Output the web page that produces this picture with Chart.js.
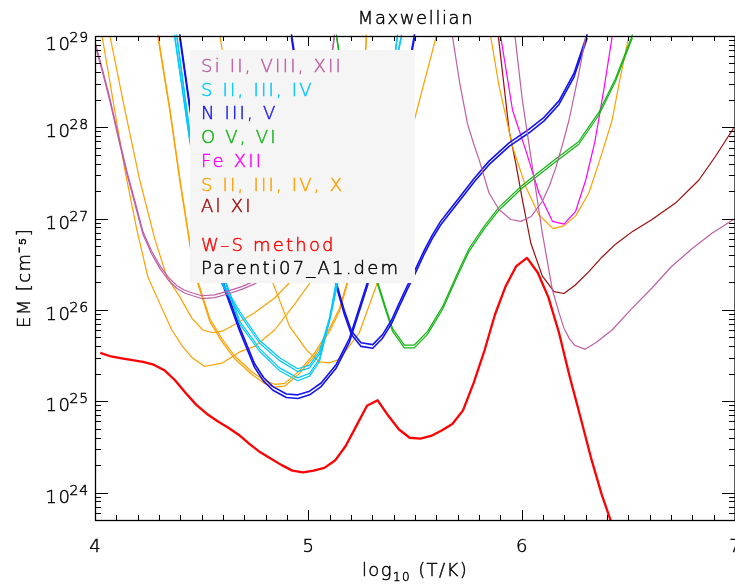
<!DOCTYPE html>
<html>
<head>
<meta charset="utf-8">
<script src="https://cdn.jsdelivr.net/npm/chart.js@4"></script>
<style>
  html, body { margin: 0; padding: 0; background: #fff; }
  #wrap { width: 735px; height: 584px; }
</style>
</head>
<body>
<div id="wrap"><canvas id="emChart" width="735" height="584"></canvas></div>
<script>
// EM loci: log10(T/K) and log10(EM / cm^-5)
const wsT = [4.025,4.075,4.125,4.175,4.225,4.275,4.325,4.375,4.425,4.475,4.525,4.575,4.625,4.675,4.725,4.775,4.825,4.875,4.925,4.975,
             5.025,5.075,5.125,5.175,5.225,5.275,5.325,5.375,5.425,5.475,5.525,5.575,5.625,5.675,5.725,5.775,5.825,5.875,5.925,5.975,
             6.025,6.075,6.125,6.175,6.225,6.275,6.325,6.375,6.425,6.475];
const wsEM = [25.53,25.49,25.47,25.45,25.43,25.40,25.34,25.23,25.09,24.96,24.86,24.78,24.71,24.63,24.53,24.44,24.37,24.30,24.24,24.22,
              24.24,24.27,24.35,24.51,24.73,24.95,25.01,24.84,24.69,24.60,24.59,24.62,24.68,24.75,24.90,25.20,25.55,25.95,26.26,26.48,
              26.57,26.41,26.14,25.75,25.27,24.83,24.38,23.98,23.64,23.26];

const siAT  = [4.0,4.035,4.070,4.110,4.150,4.190,4.225,4.265,4.304,4.344,4.384,4.420,4.458,4.50,4.561,4.622,4.688,4.748,4.865,4.959,5.052,5.122,5.169];
const siAEM = [28.92,28.62,28.30,27.89,27.50,27.15,26.84,26.63,26.47,26.34,26.25,26.20,26.17,26.14,26.15,26.19,26.24,26.30,26.49,26.88,27.75,29.0,29.72];
const siBT  = [5.637,5.676,5.710,5.746,5.775,5.801,5.847,5.894,5.949,5.996,6.043,6.097,6.130,6.159,6.190,6.222,6.268,6.30,6.325];
const siBEM = [29.61,28.99,28.48,28.04,27.82,27.64,27.28,27.10,26.99,26.97,27.02,27.19,27.36,27.55,27.80,28.08,28.59,28.99,29.39];
const siCT  = [5.950,5.969,6.003,6.050,6.097,6.144,6.175,6.198,6.225,6.250,6.297,6.347,6.424,6.518,6.611,6.700,6.798,6.892,7.0];
const siCEM = [29.39,28.99,28.30,27.57,26.84,26.22,25.97,25.80,25.68,25.61,25.57,25.64,25.78,26.02,26.24,26.47,26.67,26.84,27.0];

const sCyanAT  = [4.355,4.374,4.444,4.514,4.594,4.678,4.772,4.865,4.950,5.006,5.052,5.099,5.130,5.193,5.286,5.403,5.417,5.431];
const sCyanAEM = [29.39,28.99,27.86,26.99,26.30,25.97,25.65,25.46,25.34,25.38,25.53,25.89,26.29,27.10,27.97,28.74,28.99,29.39];
const sCyanBT  = [4.365,4.384,4.449,4.529,4.613,4.678,4.772,4.865,4.950,5.006,5.052,5.107,5.137,5.202,5.296,5.413,5.436,5.450];
const sCyanBEM = [29.39,28.99,27.86,26.99,26.30,25.86,25.56,25.35,25.24,25.29,25.45,25.97,26.30,27.10,27.97,28.74,28.99,29.39];

const nAT  = [4.379,4.398,4.444,4.514,4.60,4.678,4.748,4.790,4.834,4.897,4.951,5.006,5.060,5.130,5.193,5.278,5.356,5.427,5.497,5.520];
const nAEM = [29.39,28.99,28.23,27.21,26.29,25.79,25.39,25.24,25.14,25.06,25.05,25.09,25.18,25.38,25.67,26.29,27.21,28.08,28.99,29.39];
const nBT  = [4.903,4.921,4.982,5.052,5.130,5.169,5.202,5.247,5.302,5.348,5.390,5.427,5.465,5.505,5.545,5.581,5.620,5.660,5.707,5.777,5.847,5.941,6.035,6.105,6.175,6.245,6.306,6.329];
const nBEM = [29.39,29.0,28.08,27.21,26.29,25.97,25.75,25.62,25.60,25.71,25.87,26.06,26.25,26.44,26.64,26.80,26.95,27.07,27.21,27.42,27.61,27.81,27.96,28.09,28.27,28.57,28.99,29.28];

const oT  = [5.113,5.132,5.193,5.263,5.325,5.364,5.395,5.450,5.497,5.559,5.629,5.698,5.754,5.824,5.894,6.003,6.144,6.268,6.362,6.440,6.518,6.549];
const oEM = [29.61,29.0,28.08,26.99,26.29,26.00,25.78,25.60,25.60,25.75,26.02,26.38,26.66,26.90,27.11,27.35,27.61,27.83,28.15,28.52,28.99,29.39];

const feT  = [5.885,5.902,5.957,6.023,6.081,6.144,6.198,6.253,6.30,6.343,6.385,6.424,6.442];
const feEM = [29.39,28.99,28.19,27.72,27.28,26.97,26.94,27.08,27.42,27.84,28.41,28.99,29.39];

const sOrAT  = [4.019,4.033,4.084,4.140,4.196,4.248,4.290,4.360,4.410,4.454,4.514,4.599,4.678,4.748,4.842,4.935,5.052,5.169];
const sOrAEM = [29.39,29.00,28.30,27.53,26.88,26.36,26.14,25.78,25.60,25.48,25.38,25.42,25.54,25.60,25.78,26.06,26.44,26.99];
const sOrBT  = [4.051,4.070,4.140,4.210,4.281,4.337,4.398,4.454,4.505,4.552,4.599,4.669,4.748,4.842,4.912,5.052];
const sOrBEM = [29.39,29.00,28.19,27.42,26.77,26.36,26.14,25.91,25.78,25.75,25.77,25.86,25.97,26.13,26.30,26.77];
const sOrCT  = [4.281,4.295,4.351,4.398,4.449,4.482,4.538,4.594,4.655,4.734,4.795,4.842,4.889,4.959,5.029,5.099,5.146,5.183,5.230,5.258,5.272,5.282];
const sOrCEM = [29.39,29.00,28.19,27.42,26.66,26.30,25.89,25.67,25.48,25.31,25.21,25.17,25.18,25.32,25.51,25.78,26.00,26.30,27.21,28.30,29.00,29.39];
const sOrDT  = [4.575,4.585,4.678,4.772,4.833,4.912,4.992,5.052,5.099,5.146,5.239,5.324,5.403,5.497,5.600,5.620];
const sOrDEM = [29.39,29.00,27.75,26.77,26.30,25.82,25.56,25.43,25.42,25.46,25.75,26.30,27.15,28.08,29.00,29.30];
const sXT  = [5.838,5.855,5.894,5.957,6.019,6.081,6.147,6.198,6.253,6.315,6.377,6.424,6.460,6.502,6.521];
const sXEM = [29.39,28.99,28.45,27.79,27.35,27.04,26.89,26.92,27.03,27.28,27.72,28.08,28.52,28.99,29.39];

const alT  = [5.880,5.891,5.941,5.972,6.003,6.043,6.097,6.152,6.198,6.250,6.315,6.377,6.440,6.520,6.611,6.721,6.830,6.908,6.993];
const alEM = [29.39,28.99,27.97,27.61,27.21,26.73,26.37,26.20,26.18,26.27,26.42,26.58,26.72,26.86,26.99,27.17,27.42,27.68,27.99];

const xTicks = [4, 5, 6, 7];
const yTickExps = [24, 25, 26, 27, 28, 29];
const legendLabels = ['Si II, VIII, XII', 'S II, III, IV', 'N III, V', 'O V, VI', 'Fe XII',
                      'S II, III, IV, X', 'Al XI', 'W\u2013S method', 'Parenti07_A1.dem'];

const C = {
    si: 'rgb(190,95,165)', cyan: 'rgb(0,200,255)', blue: 'rgb(20,20,240)', green: 'rgb(20,180,20)',
    fe: 'rgb(255,0,255)', orange: 'rgb(255,160,0)', al: 'rgb(160,10,10)', red: 'rgb(255,0,0)', black: '#000'
};
const legendColors = [C.si, C.cyan, C.blue, C.green, C.fe, C.orange, C.al, C.red, C.black];
const legendBase = [72, 95.5, 119, 143, 166.5, 190.5, 212, 251, 274];
const FONT = '"DejaVu Sans", sans-serif';
const LIGHT = '200 ';

function pts(ts, es) {
    return ts.map((t, i) => ({ x: t, y: Math.pow(10, es[i]) }));
}

const curves = [
    { t: siAT, e: siAEM, color: C.si, double: true },
    { t: siBT, e: siBEM, color: C.si },
    { t: siCT, e: siCEM, color: C.si },
    { t: sCyanAT, e: sCyanAEM, color: C.cyan, double: true },
    { t: sCyanBT, e: sCyanBEM, color: C.cyan, double: true },
    { t: nAT, e: nAEM, color: C.blue, double: true, width: 1.6 },
    { t: nBT, e: nBEM, color: C.blue, double: true, width: 1.6 },
    { t: oT, e: oEM, color: C.green, double: true },
    { t: feT, e: feEM, color: C.fe },
    { t: sOrAT, e: sOrAEM, color: C.orange },
    { t: sOrBT, e: sOrBEM, color: C.orange },
    { t: sOrCT, e: sOrCEM, color: C.orange, double: true },
    { t: sOrDT, e: sOrDEM, color: C.orange },
    { t: sXT, e: sXEM, color: C.orange },
    { t: alT, e: alEM, color: C.al },
    { t: wsT, e: wsEM, color: C.red, width: 2.3 }
];

const datasets = [];
curves.forEach(c => {
    const base = {
        data: pts(c.t, c.e),
        borderColor: c.color,
        borderWidth: c.width || 1.2,
        borderJoinStyle: 'round',
        pointRadius: 0,
        fill: false,
        tension: 0
    };
    if (c.double) {
        const s = (c.width || 1.2) + 0.2;
        datasets.push(Object.assign({}, base, { shift: -s }));
        datasets.push(Object.assign({}, base, { data: pts(c.t, c.e), shift: s }));
    } else {
        datasets.push(base);
    }
});

function line(ctx, x1, y1, x2, y2) {
    ctx.beginPath();
    ctx.moveTo(x1, y1);
    ctx.lineTo(x2, y2);
    ctx.stroke();
}

// thin font, slightly thickened so it reads like the original
function txt(ctx, s, x, y, color) {
    ctx.fillStyle = color;
    ctx.strokeStyle = color;
    ctx.lineWidth = 0.45;
    ctx.fillText(s, x, y);
    ctx.strokeText(s, x, y);
}

const frame = {
    id: 'frame',
    beforeDatasetDraw(chart, args) {
        const s = chart.data.datasets[args.index].shift;
        if (s) {
            chart.ctx.save();
            chart.ctx.translate(0, s);
        }
    },
    afterDatasetDraw(chart, args) {
        if (chart.data.datasets[args.index].shift) chart.ctx.restore();
    },
    afterDatasetsDraw(chart) {
        const { ctx, chartArea: a, scales: { x, y } } = chart;
        ctx.save();

        // legend box, on top of the curves
        ctx.fillStyle = '#f5f5f5';
        ctx.fillRect(190, 50, 225, 233);
        ctx.font = LIGHT + '18px ' + FONT;
        ctx.letterSpacing = '2.2px';
        ctx.textBaseline = 'alphabetic';
        ctx.textAlign = 'left';
        legendLabels.forEach((s, i) => txt(ctx, s, 201, legendBase[i], legendColors[i]));

        // axes box
        ctx.strokeStyle = '#000';
        ctx.lineWidth = 1.3;
        ctx.strokeRect(a.left + 0.5, a.top + 0.5, a.right - a.left - 0.5, a.bottom - a.top);

        ctx.lineWidth = 1;
        for (let i = 0; i <= 30; i++) {
            const px = Math.round(x.getPixelForValue(4 + i / 10)) + 0.5;
            const len = i % 10 === 0 ? 10 : 5;
            line(ctx, px, a.bottom, px, a.bottom - len);
            line(ctx, px, a.top, px, a.top + len);
        }
        for (let e = 23; e <= 29; e++) {
            for (let m = 1; m <= 9; m++) {
                const v = m * Math.pow(10, e);
                if (v < 5e23 || v > 1.0001e29) continue;
                const py = Math.round(y.getPixelForValue(v)) + 0.5;
                const len = m === 1 ? 13 : 6;
                line(ctx, a.left, py, a.left + len, py);
                line(ctx, a.right, py, a.right - len, py);
            }
        }

        // y tick labels 10^n
        yTickExps.forEach(n => {
            const py = y.getPixelForValue(Math.pow(10, n));
            const base = n === 29 ? 50 : py + 10;
            ctx.font = LIGHT + '14px ' + FONT;
            ctx.letterSpacing = '0.8px';
            const ew = ctx.measureText(String(n)).width;
            ctx.textAlign = 'right';
            txt(ctx, String(n), 89, base - 8, '#000');
            ctx.font = LIGHT + '18px ' + FONT;
            ctx.letterSpacing = '1.6px';
            txt(ctx, '10', 89 - ew + 2, base, '#000');
        });

        // x tick labels
        ctx.font = LIGHT + '18px ' + FONT;
        ctx.letterSpacing = '0px';
        ctx.textAlign = 'center';
        xTicks.forEach(v => txt(ctx, String(v), x.getPixelForValue(v), 552, '#000'));

        // x title: log10 (T/K)
        ctx.textAlign = 'left';
        ctx.font = LIGHT + '18px ' + FONT;
        ctx.letterSpacing = '1.4px';
        const w1 = ctx.measureText('log').width;
        const w3 = ctx.measureText(' (T/K)').width;
        ctx.font = LIGHT + '12px ' + FONT;
        const w2 = ctx.measureText('10').width;
        const sx = 415 - (w1 + w2 + w3) / 2;
        ctx.font = LIGHT + '18px ' + FONT;
        txt(ctx, 'log', sx, 576, '#000');
        ctx.font = LIGHT + '12px ' + FONT;
        txt(ctx, '10', sx + w1, 581, '#000');
        ctx.font = LIGHT + '18px ' + FONT;
        txt(ctx, ' (T/K)', sx + w1 + w2, 576, '#000');

        // title
        ctx.textAlign = 'center';
        ctx.font = LIGHT + '18px ' + FONT;
        ctx.letterSpacing = '1.6px';
        txt(ctx, 'Maxwellian', 416, 24, '#000');

        // y title
        ctx.translate(30, 278);
        ctx.rotate(-Math.PI / 2);
        ctx.font = LIGHT + '18px ' + FONT;
        ctx.letterSpacing = '1.4px';
        txt(ctx, 'EM [cm\u207B\u2075]', 0, 0, '#000');

        ctx.restore();
    }
};

new Chart(document.getElementById('emChart'), {
    type: 'line',
    data: { datasets: datasets },
    options: {
        responsive: false,
        animation: false,
        devicePixelRatio: 1,
        events: [],
        layout: { padding: { left: 95, right: 0, top: 36, bottom: 64 } },
        scales: {
            x: { type: 'linear', min: 4, max: 7, display: false },
            y: { type: 'logarithmic', min: 5e23, max: 1e29, display: false }
        },
        plugins: { legend: { display: false }, tooltip: { enabled: false }, title: { display: false } }
    },
    plugins: [frame]
});
</script>
</body>
</html>
